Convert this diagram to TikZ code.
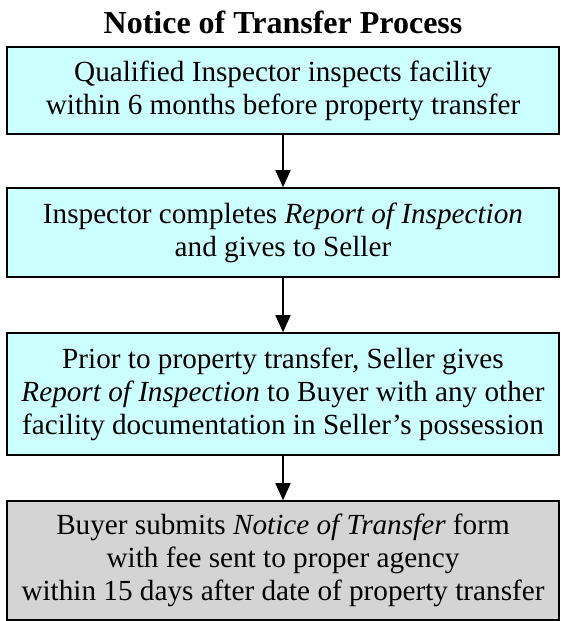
\documentclass[tikz,border=0pt]{standalone}
\usepackage{fontspec}
\setmainfont{Liberation Serif}
\usepackage{tikz}
\usetikzlibrary{positioning, arrows.meta}
\definecolor{paleaqua}{HTML}{CCFFFF}
\definecolor{palegrey}{HTML}{D4D4D4}

\begin{document}
\begin{tikzpicture}[x=1pt, y=-1pt,
		stepbox/.style={draw=black, line width=1.6pt, minimum width=552pt, inner sep=0pt, align=center,
			font=\fontsize{29.2}{33}\selectfont},
		flow/.style={-{Triangle[length=17pt, width=15pt]}, line width=1.8pt}]
				\useasboundingbox (0,0) rectangle (561,621);
				\pgfmathsetmacro{\midx}{283}
				
				\node[font=\bfseries\fontsize{32}{36}\selectfont] (title) at (\midx,22) {Notice of Transfer Process};
				
				\node[stepbox, fill=paleaqua, minimum height=87pt] (inspect) at (\midx,90.5)
					{Qualified Inspector inspects facility\\within 6 months before property transfer};
				\node[stepbox, fill=paleaqua, minimum height=89pt] (report) at (\midx,232.5)
					{Inspector completes \textit{Report of Inspection}\\and gives to Seller};
				\node[stepbox, fill=paleaqua, minimum height=122pt] (deliver) at (\midx,394)
					{Prior to property transfer, Seller gives\\\textit{Report of Inspection} to Buyer with any other\\facility documentation in Seller's possession};
				\node[stepbox, fill=palegrey, minimum height=119pt] (notice) at (\midx,560.5)
					{Buyer submits \textit{Notice of Transfer} form\\with fee sent to proper agency\\within 15 days after date of property transfer};
				
				\draw[flow] (inspect) -- (report);
				\draw[flow] (report) -- (deliver);
				\draw[flow] (deliver) -- (notice);
\end{tikzpicture}
\end{document}
